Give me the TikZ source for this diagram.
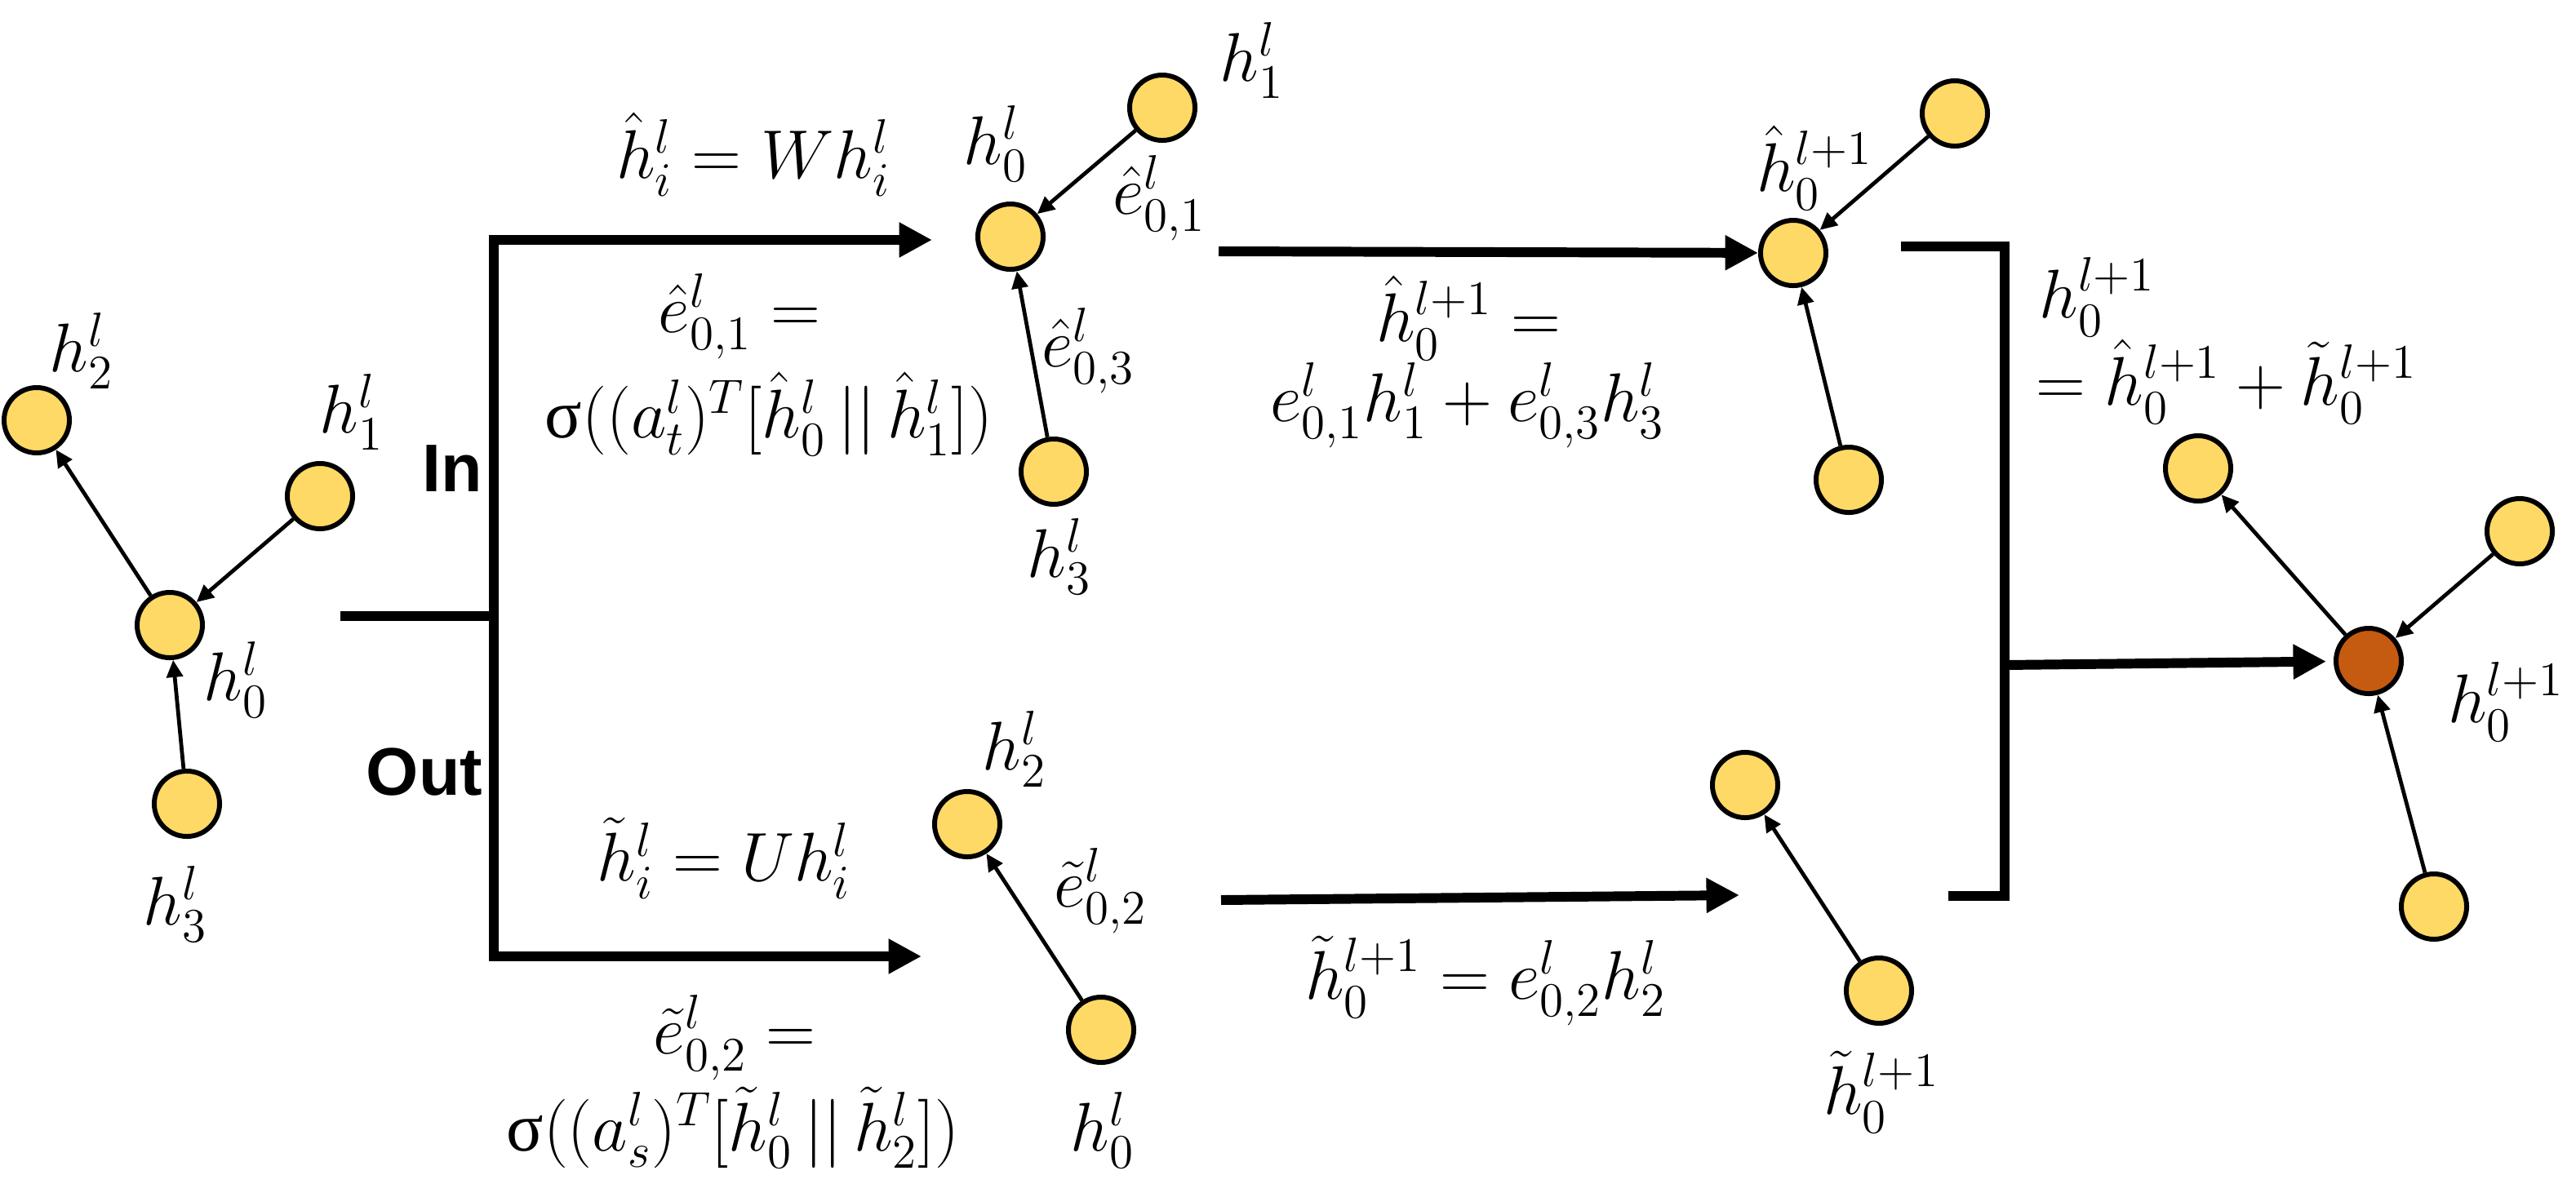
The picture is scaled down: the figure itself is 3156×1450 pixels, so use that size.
\RequirePackage{fix-cm}
\documentclass[tikz,border=0pt]{standalone}
\usepackage{amsmath}
\usepackage{fontspec}
\newfontfamily\labelsans{Liberation Sans}
\newfontfamily\greekup{Liberation Serif}
\newcommand{\upsig}{\mbox{\greekup σ}}
\usetikzlibrary{arrows.meta}
\definecolor{nodeyellow}{RGB}{255,217,102}
\definecolor{nodeorange}{RGB}{197,90,17}
\begin{document}
\begin{tikzpicture}[x=0.01cm,y=-0.01cm,
  gnode/.style={circle,draw=black,line width=1.7pt,fill=nodeyellow,minimum size=0.80cm,inner sep=0pt},
  onode/.style={gnode,fill=nodeorange},
  gedge/.style={line width=1.35pt,-{Triangle[length=6pt,width=5.6pt]}},
  flow/.style={line width=3.4pt,line join=miter},
  flowarrow/.style={flow,-{Triangle[length=11.5pt,width=11.5pt]}},
  lbl/.style={inner sep=0pt,font=\fontsize{24}{29}\selectfont},
  tag/.style={inner sep=0pt,font=\fontsize{23.5}{28}\selectfont\labelsans\bfseries}]
\useasboundingbox (0,0) rectangle (3156,1450);

% ---- left graph ----
\node[gnode] (L0) at (208,766) {};
\node[gnode] (L1) at (392,608) {};
\node[gnode] (L2) at (45,515) {};
\node[gnode] (L3) at (229,985) {};
\draw[gedge] (L0) -- (L2);
\draw[gedge] (L1) -- (L0);
\draw[gedge] (L3) -- (L0);
\node[lbl] (lL2) at (100,430) {$h^{l}_{2}$};
\node[lbl] (lL1) at (431,505) {$h^{l}_{1}$};
\node[lbl] (lL0) at (289,833) {$h^{l}_{0}$};
\node[lbl] (lL3) at (215,1108) {$h^{l}_{3}$};

% ---- split ----
\coordinate (S0) at (417,755);
\coordinate (J) at (605,755);
\coordinate (Jt) at (605,294);
\coordinate (Jb) at (605,1172);
\coordinate (At) at (1142,294);
\coordinate (Ab) at (1129,1172);
\draw[flow] (S0) -- (J);
\draw[flowarrow] (J) -- (Jt) -- (At);
\draw[flowarrow] (J) -- (Jb) -- (Ab);
\node[tag] (tIn) at (554,574) {In};
\node[tag] (tOut) at (520,946) {Out};

% ---- top middle ----
\node[lbl] (eqW) at (923,189) {$\hat{h}^{l}_{i}=W h^{l}_{i}$};
\node[lbl] (eqA1) at (906,388) {$\hat{e}^{l}_{0,1}=$};
\node[lbl] (eqA2) at (942,507) {$\upsig((a^{l}_{t})^{T}[\hat{h}^{l}_{0}\,||\,\hat{h}^{l}_{1}])$};
\node[gnode] (T0) at (1238,290) {};
\node[gnode] (T1) at (1424,132) {};
\node[gnode] (T3) at (1291,578) {};
\draw[gedge] (T1) -- (T0);
\draw[gedge] (T3) -- (T0);
\node[lbl] (lT0) at (1220,176) {$h^{l}_{0}$};
\node[lbl] (lT1) at (1534,74) {$h^{l}_{1}$};
\node[lbl] (lT01) at (1420,243) {$\hat{e}^{l}_{0,1}$};
\node[lbl] (lT03) at (1333,430) {$\hat{e}^{l}_{0,3}$};
\node[lbl] (lT3) at (1298,682) {$h^{l}_{3}$};

% ---- bottom middle ----
\node[lbl] (eqU) at (887,1052) {$\tilde{h}^{l}_{i}=U h^{l}_{i}$};
\node[lbl] (eqB1) at (900,1272) {$\tilde{e}^{l}_{0,2}=$};
\node[lbl] (eqB2) at (898,1382) {$\upsig((a^{l}_{s})^{T}[\tilde{h}^{l}_{0}\,||\,\tilde{h}^{l}_{2}])$};
\node[gnode] (B2) at (1185,1010) {};
\node[gnode] (B0) at (1349,1262) {};
\draw[gedge] (B0) -- (B2);
\node[lbl] (lB2) at (1243,918) {$h^{l}_{2}$};
\node[lbl] (lB02) at (1348,1092) {$\tilde{e}^{l}_{0,2}$};
\node[lbl] (lB0) at (1351,1385) {$h^{l}_{0}$};

% ---- top right ----
\node[gnode] (R0) at (2197,310) {};
\node[gnode] (R1) at (2395,139) {};
\node[gnode] (R3) at (2265,588) {};
\draw[gedge] (R1) -- (R0);
\draw[gedge] (R3) -- (R0);
\node[lbl] (lR0) at (2223,206) {$\hat{h}^{l+1}_{0}$};
\coordinate (Mt) at (1493,308);
\draw[flowarrow] (Mt) -- (R0);
\node[lbl] (eqC1) at (1799,390) {$\hat{h}^{l+1}_{0}=$};
\node[lbl] (eqC2) at (1798,497) {$e^{l}_{0,1}h^{l}_{1}+e^{l}_{0,3}h^{l}_{3}$};

% ---- bottom right ----
\node[gnode] (Q2) at (2138,962) {};
\node[gnode] (Q0) at (2302,1214) {};
\draw[gedge] (Q0) -- (Q2);
\node[lbl] (lQ0) at (2305,1338) {$\tilde{h}^{l+1}_{0}$};
\coordinate (Mb) at (1496,1103);
\coordinate (Mbe) at (2131,1097);
\draw[flowarrow] (Mb) -- (Mbe);
\node[lbl] (eqD) at (1820,1202) {$\tilde{h}^{l+1}_{0}=e^{l}_{0,2}h^{l}_{2}$};

% ---- merge bracket ----
\coordinate (K1) at (2329,302);
\coordinate (K2) at (2456,302);
\coordinate (K3) at (2456,1098);
\coordinate (K4) at (2387,1098);
\coordinate (Km) at (2456,815);
\draw[flow] (K1) -- (K2) -- (K3) -- (K4);
\node[lbl,anchor=west] (eqE1) at (2498,364) {$h^{l+1}_{0}$};
\node[lbl,anchor=west] (eqE2) at (2494,468) {$=\hat{h}^{l+1}_{0}+\tilde{h}^{l+1}_{0}$};

% ---- final graph ----
\node[onode] (F0) at (2902,810) {};
\node[gnode] (F2) at (2693,574) {};
\node[gnode] (F1) at (3087,651) {};
\node[gnode] (F3) at (2982,1111) {};
\draw[flowarrow,shorten >=0.09cm] (Km) -- (F0);
\draw[gedge] (F0) -- (F2);
\draw[gedge] (F1) -- (F0);
\draw[gedge] (F3) -- (F0);
\node[lbl] (lF0) at (3070,860) {$h^{l+1}_{0}$};
\end{tikzpicture}
\end{document}
